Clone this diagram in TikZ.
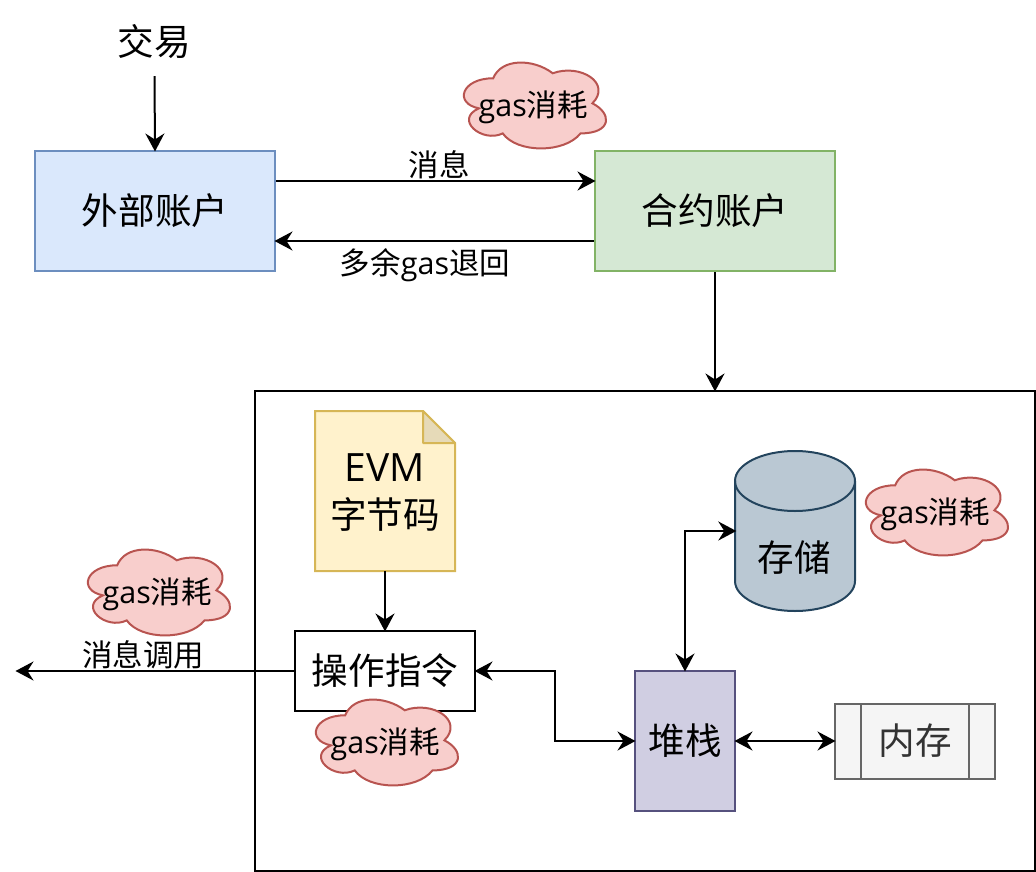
\documentclass[tikz,border=0pt]{standalone}
\usepackage{fontspec}
\usepackage{tikz}
\usetikzlibrary{arrows.meta}
\usetikzlibrary{calc}
\setmainfont{Noto Sans CJK SC}
\newfontfamily\latinfont{Open Sans}
\definecolor{blueFill}{HTML}{DAE8FC}
\definecolor{blueLine}{HTML}{6C8EBF}
\definecolor{greenFill}{HTML}{D5E8D4}
\definecolor{greenLine}{HTML}{82B366}
\definecolor{yellowFill}{HTML}{FFF2CC}
\definecolor{yellowLine}{HTML}{D6B656}
\definecolor{foldFill}{HTML}{E6DAB8}
\definecolor{purpleFill}{HTML}{D0CEE2}
\definecolor{purpleLine}{HTML}{56517E}
\definecolor{grayFill}{HTML}{F5F5F5}
\definecolor{grayLine}{HTML}{666666}
\definecolor{grayText}{HTML}{333333}
\definecolor{slateFill}{HTML}{BAC8D3}
\definecolor{slateLine}{HTML}{23445D}
\definecolor{redFill}{HTML}{F8CECC}
\definecolor{redLine}{HTML}{B85450}
\tikzset{
  bigtext/.style={font=\fontsize{36.6}{47}\selectfont},
  smalltext/.style={font=\fontsize{30.5}{36}\selectfont, inner sep=0pt},
  box/.style={draw, line width=2pt, inner sep=0pt, bigtext},
  flow/.style={line width=2pt, shorten >=-1.5pt, -{Stealth[length=18pt,width=19pt,inset=6pt]}},
  bothflow/.style={line width=2pt, shorten >=-1.5pt, shorten <=-1.5pt, {Stealth[length=18pt,width=19pt,inset=6pt]}-{Stealth[length=18pt,width=19pt,inset=6pt]}},
  cloudline/.style={draw=redLine, fill=redFill, line width=2pt}
}
\newcommand{\gastext}{{\latinfont gas}消耗}
\newcommand{\gascloud}[3]{
  \begin{scope}[shift={(#2-6.46,#3-6.8)}, xscale=1.058, yscale=1.114]
    \draw[cloudline] (37.5,22.5) .. controls (7.5,22.5) and (0,45) .. (24,49.5)
      .. controls (0,59.4) and (27,81) .. (46.5,72)
      .. controls (60,90) and (105,90) .. (120,72)
      .. controls (150,72) and (150,54) .. (131.25,45)
      .. controls (150,27) and (120,9) .. (93.75,18)
      .. controls (75,4.5) and (45,4.5) .. (37.5,22.5) -- cycle;
    \node[smalltext] (#1) at (75.4,48.6) {\gastext};
  \end{scope}
}

\begin{document}
\begin{tikzpicture}[x=1pt,y=-1pt]
\useasboundingbox (0,0) rectangle (1036,872);

% Rahmen
\node[draw, line width=2pt, minimum width=780pt, minimum height=480pt, inner sep=0pt] (evmBox) at (645,631) {};

% Konten
\node[bigtext, minimum width=120pt, minimum height=68pt, inner sep=0pt] (tx) at (154.5,42) {交易};
\node[box, fill=blueFill, draw=blueLine, minimum width=240pt, minimum height=120pt] (userAcct) at (155,211) {外部账户};
\node[box, fill=greenFill, draw=greenLine, minimum width=240pt, minimum height=120pt] (contractAcct) at (715,211) {合约账户};

% Bytecode
\draw[line width=2pt, draw=yellowLine, fill=yellowFill] (315,411) -- (423,411) -- (455,443) -- (455,571) -- (315,571) -- cycle;
\draw[line width=2pt, draw=yellowLine, fill=foldFill, line join=round] (423,411) -- (423,443) -- (455,443) -- cycle;
\node[minimum width=140pt, minimum height=160pt, inner sep=0pt] (bytecode) at (385,491) {};
\node[bigtext, align=center, inner sep=0pt] (bytecodeText) at (385,493) {{\fontsize{39}{47}\selectfont\latinfont EVM}\\字节码};

% Speicher
\draw[line width=2pt, draw=slateLine, fill=slateFill] (735,481) .. controls (735,464.4) and (761.9,451) .. (795,451) .. controls (828.1,451) and (855,464.4) .. (855,481) -- (855,581) .. controls (855,597.6) and (828.1,611) .. (795,611) .. controls (761.9,611) and (735,597.6) .. (735,581) -- cycle;
\draw[line width=2pt, draw=slateLine] (735,481) .. controls (735,497.6) and (761.9,511) .. (795,511) .. controls (828.1,511) and (855,497.6) .. (855,481);
\node[minimum width=120pt, minimum height=160pt, inner sep=0pt] (storage) at (795,531) {};
\node[bigtext] (storageText) at (794,558) {存储};

% Ablauf
\node[box, fill=white, minimum width=180pt, minimum height=80pt] (opcode) at (385,671) {操作指令};
\node[box, fill=purpleFill, draw=purpleLine, minimum width=100pt, minimum height=140pt] (stack) at (685,741) {堆栈};
\node[box, fill=grayFill, draw=grayLine, text=grayText, minimum width=160pt, minimum height=75pt] (memory) at (915,741) {内存};
\draw[line width=2pt, draw=grayLine] (861,703.5) -- (861,778.5);
\draw[line width=2pt, draw=grayLine] (969,703.5) -- (969,778.5);

% Pfeile
\coordinate (callEnd) at (17,671);
\coordinate (opLink) at (555,706);
\draw[flow] (tx.south) -- (userAcct.north);
\draw[flow] ([yshift=30pt]userAcct.east) -- ([yshift=30pt]contractAcct.west);
\draw[flow] ([yshift=-30pt]contractAcct.west) -- ([yshift=-30pt]userAcct.east);
\draw[flow] (contractAcct.south) -- (contractAcct.south |- evmBox.north);
\draw[flow] (bytecode.south) -- (opcode.north);
\draw[flow] (opcode.west) -- (callEnd);
\draw[bothflow] (opcode.east) -| (opLink) |- (stack.west);
\draw[bothflow] (stack.north) |- (storage.west);
\draw[bothflow] (stack.east) -- (memory.west);

% Beschriftungen
\node[smalltext] (msgLabel) at (439,164.5) {消息};
\node[smalltext] (refundLabel) at (425,265) {多余{\latinfont gas}退回};
\node[smalltext] (callLabel) at (143,654.5) {消息调用};

% Gas
\gascloud{gasContract}{460}{60}
\gascloud{gasCall}{84}{547}
\gascloud{gasOpcode}{312}{697}
\gascloud{gasStorage}{862}{467}

\end{tikzpicture}
\end{document}
